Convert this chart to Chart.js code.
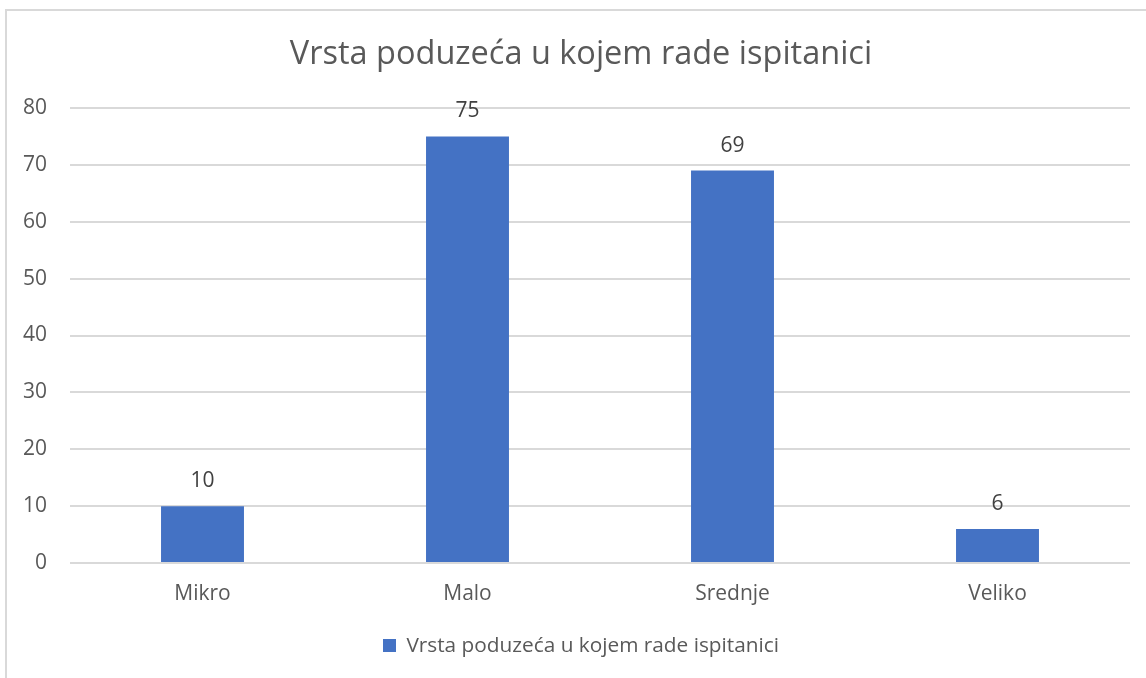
<!DOCTYPE html>
<html>
<head>
<meta charset="utf-8">
<script src="https://cdn.jsdelivr.net/npm/chart.js@4"></script>
<style>
  html, body { margin: 0; padding: 0; background: #fff; overflow: hidden; }
  #frame { position: absolute; left: 5px; top: 9px; width: 1200px; height: 720px;
           border-left: 2px solid #d9d9d9; border-top: 2px solid #d9d9d9; }
  #wrap { position: absolute; left: 0; top: 0; width: 1162px; height: 678px; }
</style>
</head>
<body>
<div id="frame"></div>
<div id="wrap"><canvas id="chart" width="1162" height="678"></canvas></div>
<script>
var categories = ['Mikro', 'Malo', 'Srednje', 'Veliko'];
var values = [10, 75, 69, 6];
var seriesName = 'Vrsta poduzeća u kojem rade ispitanici';

var FONT = '"Open Sans", Lato, sans-serif';

// draws the value above every bar (no datalabels plugin offline)
var barLabels = {
  id: 'barLabels',
  afterDatasetsDraw: function (chart) {
    var ctx = chart.ctx;
    ctx.save();
    ctx.font = '21px ' + FONT;
    ctx.fillStyle = '#404040';
    ctx.textAlign = 'center';
    ctx.textBaseline = 'middle';
    chart.getDatasetMeta(0).data.forEach(function (bar, i) {
      ctx.fillText(chart.data.datasets[0].data[i], bar.x, bar.y - 25);
    });
    ctx.restore();
  }
};

new Chart(document.getElementById('chart').getContext('2d'), {
  type: 'bar',
  data: {
    labels: categories,
    datasets: [{
      label: seriesName,
      data: values,
      backgroundColor: '#4472c4',
      borderWidth: 0,
      categoryPercentage: 1,
      barPercentage: 0.313
    }]
  },
  options: {
    responsive: false,
    animation: false,
    layout: { padding: { left: 0, right: 0, top: 0, bottom: 12 } },
    plugins: {
      title: {
        display: true,
        text: seriesName,
        color: '#595959',
        font: { family: FONT, size: 32.5, weight: 'normal' },
        padding: { top: 35, bottom: 34 }
      },
      legend: {
        position: 'bottom',
        labels: {
          color: '#595959',
          font: { family: FONT, size: 20.8 },
          boxWidth: 13,
          boxHeight: 13,
          padding: 6
        }
      },
      tooltip: { enabled: false }
    },
    scales: {
      x: {
        grid: { display: false },
        border: { display: false },
        ticks: { color: '#595959', font: { family: FONT, size: 21 }, padding: 10, maxRotation: 0 },
        afterFit: function (scale) { scale.height += 13; }
      },
      y: {
        min: 0,
        max: 80,
        ticks: { stepSize: 10, color: '#595959', font: { family: FONT, size: 21 }, padding: 23 },
        grid: { color: '#d9d9d9', lineWidth: 2, drawTicks: false },
        border: { display: false },
        afterFit: function (scale) { scale.width = 70; }
      },
      // empty right-hand space so title/legend centre on the whole frame
      yRight: {
        position: 'right',
        min: 0,
        max: 80,
        grid: { display: false },
        border: { display: false },
        ticks: { display: false },
        afterFit: function (scale) { scale.width = 32; }
      }
    }
  },
  plugins: [barLabels]
});
</script>
</body>
</html>
